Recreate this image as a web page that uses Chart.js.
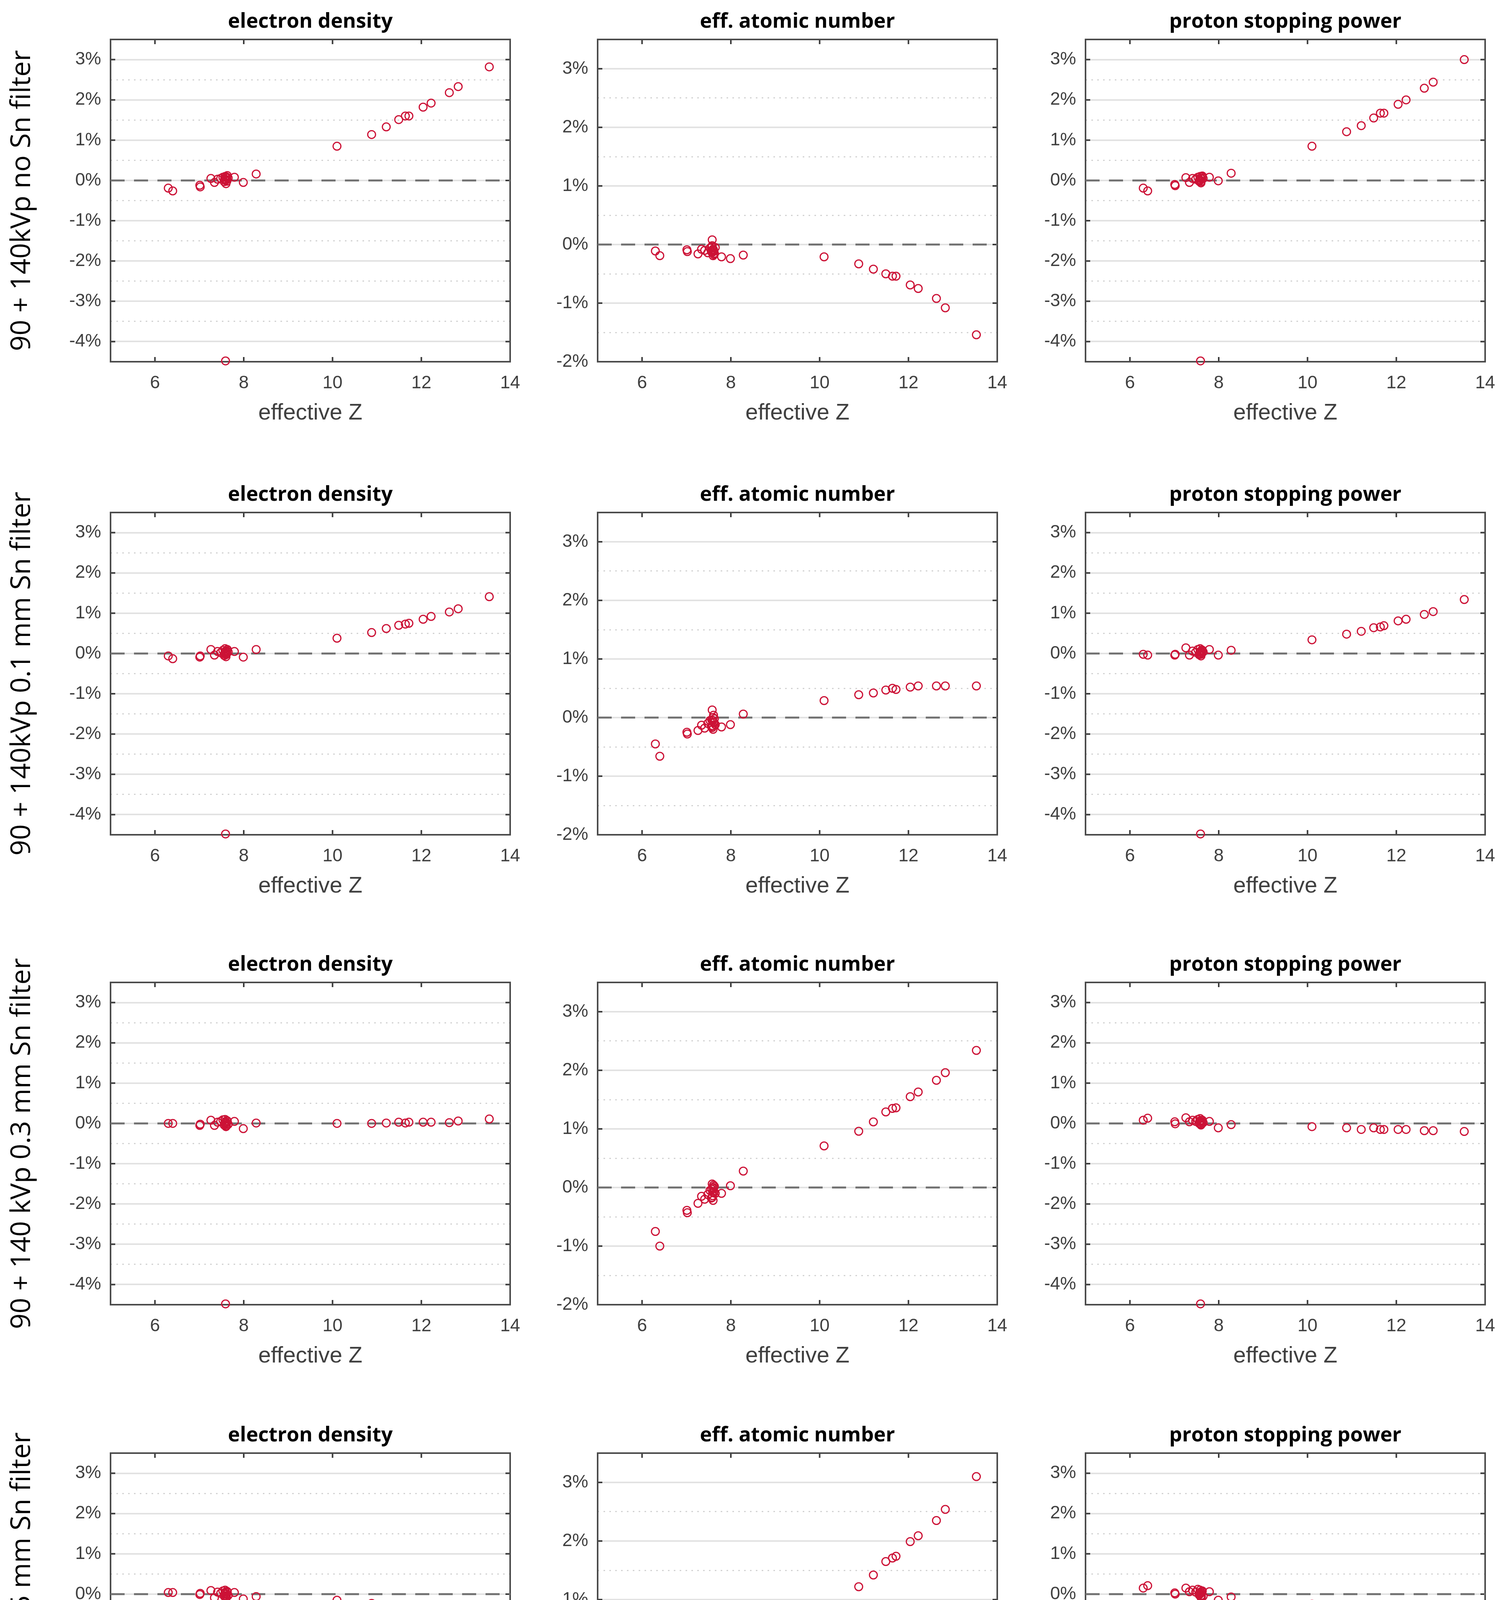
<!DOCTYPE html>
<html>
<head>
<meta charset="utf-8">
<script src="https://cdn.jsdelivr.net/npm/chart.js@4.4.1/dist/chart.umd.min.js"></script>
<style>
html,body{margin:0;padding:0;background:#ffffff;}
body{width:3858px;height:4748px;position:relative;overflow:hidden;}
canvas{position:absolute;}
</style>
</head>
<body>
<script>
// ---------------- DATA ----------------
const zeff = [6.30,6.40,7.01,7.02,7.26,7.34,7.41,7.48,7.53,7.56,7.58,7.60,7.61,7.63,7.65,7.79,7.99,8.28,10.10,10.88,11.21,11.49,11.64,11.72,12.04,12.22,12.63,12.83,13.53,7.59,7.57,7.59,7.60,7.62,7.58,7.61];

const edNoSn  = [-0.19,-0.26,-0.12,-0.16,0.05,-0.05,0.03,0.05,0.08,-0.03,0.10,-0.08,0.02,0.12,0.06,0.08,-0.05,0.16,0.85,1.14,1.33,1.51,1.60,1.60,1.82,1.92,2.18,2.33,2.82,-4.48,0.04,0.00,0.07,-0.02,0.03,0.09];
const eanNoSn = [-0.11,-0.19,-0.09,-0.12,-0.16,-0.08,-0.10,-0.14,-0.06,-0.12,0.08,-0.19,-0.09,-0.15,-0.05,-0.21,-0.24,-0.18,-0.21,-0.33,-0.42,-0.50,-0.54,-0.54,-0.69,-0.75,-0.92,-1.08,-1.54,-0.10,-0.04,-0.13,-0.08,-0.17,-0.02,-0.11];
const sprNoSn = [-0.19,-0.26,-0.10,-0.13,0.07,-0.05,0.05,0.03,0.08,-0.02,0.10,-0.06,0.04,0.11,0.05,0.08,-0.01,0.18,0.85,1.21,1.36,1.55,1.67,1.67,1.89,2.00,2.29,2.44,3.00,-4.48,0.02,0.06,-0.03,0.09,0.00,0.04];

const ed01  = [-0.06,-0.13,-0.09,-0.06,0.10,-0.04,0.05,0.02,0.08,-0.05,0.12,-0.08,0.03,0.10,0.04,0.05,-0.09,0.10,0.38,0.52,0.62,0.70,0.73,0.75,0.85,0.92,1.03,1.11,1.41,-4.48,0.00,0.06,-0.03,0.07,0.02,-0.01];
const ean01 = [-0.45,-0.66,-0.25,-0.28,-0.22,-0.13,-0.18,-0.10,-0.05,-0.15,0.13,-0.20,-0.08,-0.02,-0.12,-0.16,-0.12,0.06,0.29,0.39,0.42,0.47,0.50,0.48,0.52,0.54,0.54,0.54,0.54,-0.05,-0.04,-0.14,0.00,-0.09,-0.17,0.04];
const spr01 = [-0.02,-0.04,-0.04,-0.02,0.14,-0.04,0.06,0.03,0.10,-0.03,0.12,-0.06,0.02,0.08,0.04,0.10,-0.04,0.08,0.34,0.48,0.55,0.64,0.66,0.69,0.81,0.85,0.97,1.04,1.34,-4.48,0.00,0.05,-0.02,0.09,0.03,0.06];

const ed03  = [0.00,0.00,-0.05,-0.02,0.08,-0.05,0.03,0.05,0.09,-0.04,0.10,-0.08,0.02,0.06,-0.02,0.05,-0.13,0.01,0.00,0.00,0.01,0.03,0.01,0.03,0.03,0.03,0.02,0.06,0.11,-4.48,0.00,0.04,-0.03,0.07,0.02,-0.06];
const ean03 = [-0.75,-1.00,-0.39,-0.43,-0.27,-0.15,-0.20,-0.12,-0.05,-0.18,0.06,-0.22,-0.02,0.02,-0.10,-0.10,0.03,0.28,0.71,0.96,1.12,1.29,1.35,1.36,1.55,1.63,1.83,1.96,2.34,-0.08,-0.03,-0.14,0.00,-0.08,-0.17,0.04];
const spr03 = [0.08,0.13,0.04,-0.01,0.14,0.04,0.08,0.05,0.10,0.00,0.12,-0.04,0.03,0.08,0.02,0.05,-0.11,-0.03,-0.08,-0.11,-0.15,-0.11,-0.15,-0.15,-0.15,-0.15,-0.18,-0.18,-0.20,-4.48,0.05,0.00,0.08,0.02,0.06,-0.02];

const ed05  = [0.04,0.04,-0.01,0.02,0.09,-0.09,0.05,0.02,0.08,-0.05,0.10,-0.10,0.00,0.06,-0.03,0.04,-0.12,-0.06,-0.15,-0.23,-0.27,-0.27,-0.30,-0.30,-0.28,-0.35,-0.37,-0.37,-0.41,-4.48,0.00,0.05,-0.04,0.07,0.02,-0.07];
const ean05 = [-0.85,-1.13,-0.44,-0.46,-0.28,-0.14,-0.20,-0.10,-0.04,-0.17,0.10,-0.23,-0.02,0.05,-0.12,-0.07,0.08,0.38,0.86,1.22,1.42,1.65,1.71,1.74,1.99,2.09,2.35,2.54,3.10,-0.08,-0.06,-0.16,0.00,0.06,-0.19,-0.09];
const spr05 = [0.15,0.21,0.03,0.00,0.15,0.06,0.10,0.05,0.12,-0.02,0.10,-0.08,0.03,0.08,-0.05,0.06,-0.15,-0.07,-0.25,-0.37,-0.41,-0.44,-0.48,-0.48,-0.55,-0.59,-0.68,-0.71,-0.82,-4.48,0.00,0.05,-0.04,0.07,0.02,-0.06];

const rowLabels = ['90 + 140kVp no Sn filter','90 + 140kVp 0.1 mm Sn filter','90 + 140 kVp 0.3 mm Sn filter','90 + 140kVp 0.5 mm Sn filter'];
const panelTitles = ['electron density','eff. atomic number','proton stopping power'];
const xAxisLabel = 'effective Z';
const xTicks = [6,8,10,12,14];
const xRange = [5,14];
const zeroLine = [0,0];
const yTicksWide = [-4,-3,-2,-1,0,1,2,3];
const yHalfWide = [-3.5,-2.5,-1.5,-0.5,0.5,1.5,2.5];
const yRangeWide = [-4.5,3.5];
const yTicksNarrow = [-2,-1,0,1,2,3];
const yHalfNarrow = [-1.5,-0.5,0.5,1.5,2.5];
const yRangeNarrow = [-2,3.5];

const rows = [[edNoSn,eanNoSn,sprNoSn],[ed01,ean01,spr01],[ed03,ean03,spr03],[ed05,ean05,spr05]];

// ---------------- LAYOUT / STYLE ----------------
const PLOT_LEFT = [283,1530,2779];
const PLOT_TOP = [101,1312,2515,3720];
const PLOT_W = 1023, PLOT_H = 825;
const M = 283, T = 76, B = 180;
const RED = '#cc1236';
const TXT = '#404040';

const boxPlugin = {
  id: 'matlabBox',
  beforeDatasetsDraw(chart) {
    const {ctx, chartArea: a, scales} = chart;
    const x = scales.x, y = scales.y;
    ctx.save();
    ctx.strokeStyle = '#3c3c3c';
    ctx.lineWidth = 4;
    ctx.beginPath();
    const L = 12;
    x.ticks.forEach(t => {
      const px = x.getPixelForValue(t.value);
      ctx.moveTo(px, a.bottom); ctx.lineTo(px, a.bottom - L);
      ctx.moveTo(px, a.top); ctx.lineTo(px, a.top + L);
    });
    y.ticks.forEach(t => {
      const py = y.getPixelForValue(t.value);
      ctx.moveTo(a.left, py); ctx.lineTo(a.left + L, py);
      ctx.moveTo(a.right, py); ctx.lineTo(a.right - L, py);
    });
    ctx.stroke();
    ctx.strokeStyle = '#4a4a4a';
    ctx.strokeRect(a.left, a.top, a.width, a.height);
    ctx.restore();
  }
};

function makePanel(r, c) {
  const cv = document.createElement('canvas');
  const W = PLOT_W + 2 * M, H = T + PLOT_H + B;
  cv.width = W; cv.height = H;
  cv.style.width = W + 'px'; cv.style.height = H + 'px';
  cv.style.left = (PLOT_LEFT[c] - M) + 'px';
  cv.style.top = (PLOT_TOP[r] - T) + 'px';
  document.body.appendChild(cv);

  const narrow = c === 1;
  const yR = narrow ? yRangeNarrow : yRangeWide;
  const yT = narrow ? yTicksNarrow : yTicksWide;
  const yH = narrow ? yHalfNarrow : yHalfWide;
  const vals = rows[r][c];

  new Chart(cv, {
    data: {
      datasets: [
        {
          type: 'line',
          data: xRange.map((xv, i) => ({x: xv, y: zeroLine[i]})),
          borderColor: '#707070',
          borderWidth: 5,
          borderDash: [36, 24],
          pointRadius: 0,
          order: 2
        },
        {
          type: 'scatter',
          data: zeff.map((z, i) => ({x: z, y: vals[i]})),
          borderColor: RED,
          backgroundColor: 'rgba(0,0,0,0)',
          pointStyle: 'circle',
          pointRadius: 10,
          pointBorderWidth: 3,
          pointBackgroundColor: 'rgba(0,0,0,0)',
          pointBorderColor: RED,
          clip: false,
          order: 1
        }
      ]
    },
    options: {
      responsive: false,
      devicePixelRatio: 1,
      animation: false,
      layout: {padding: 0},
      plugins: {
        legend: {display: false},
        tooltip: {enabled: false},
        title: {
          display: true,
          text: panelTitles[c],
          color: '#000000',
          font: {family: "'Open Sans', sans-serif", size: 52, weight: 'bold', lineHeight: 1.2},
          padding: {top: 0, bottom: 13.6}
        }
      },
      scales: {
        x: {
          type: 'linear',
          position: 'bottom',
          min: xRange[0], max: xRange[1],
          afterBuildTicks: s => { s.ticks = xTicks.map(v => ({value: v})); },
          afterFit: s => { s.height = B; },
          grid: {display: false, drawTicks: false},
          border: {display: false},
          ticks: {color: TXT, font: {family: "'Liberation Sans', Arial, sans-serif", size: 46}, padding: 28, maxRotation: 0},
          title: {display: true, text: xAxisLabel, color: TXT, font: {family: "'Liberation Sans', Arial, sans-serif", size: 58, lineHeight: 1.2}, padding: {top: 0, bottom: 13}}
        },
        y: {
          type: 'linear',
          position: 'left',
          min: yR[0], max: yR[1],
          afterBuildTicks: s => { s.ticks = yT.map(v => ({value: v})); },
          afterFit: s => { s.width = M; },
          grid: {color: '#e2e2e2', lineWidth: 4, drawTicks: false},
          border: {display: false},
          ticks: {color: TXT, font: {family: "'Liberation Sans', Arial, sans-serif", size: 46}, padding: 24, callback: v => v + '%'},
          title: {
            display: c === 0,
            text: rowLabels[r],
            color: '#000000',
            font: {family: "'Open Sans', sans-serif", size: 70, lineHeight: 1.2},
            padding: {top: 15, bottom: 0}
          }
        },
        yHalf: {
          type: 'linear',
          position: 'left',
          min: yR[0], max: yR[1],
          afterBuildTicks: s => { s.ticks = yH.map(v => ({value: v})); },
          afterFit: s => { s.width = 0; },
          grid: {color: '#d2d2d2', lineWidth: 3, drawTicks: false},
          border: {display: false, dash: [4, 11]},
          ticks: {display: false}
        },
        yRight: {
          type: 'linear',
          position: 'right',
          min: yR[0], max: yR[1],
          afterFit: s => { s.width = M; },
          grid: {display: false, drawTicks: false},
          border: {display: false},
          ticks: {display: false}
        }
      }
    },
    plugins: [boxPlugin]
  });
}

for (let r = 0; r < 4; r++) {
  for (let c = 0; c < 3; c++) makePanel(r, c);
}
</script>
</body>
</html>
